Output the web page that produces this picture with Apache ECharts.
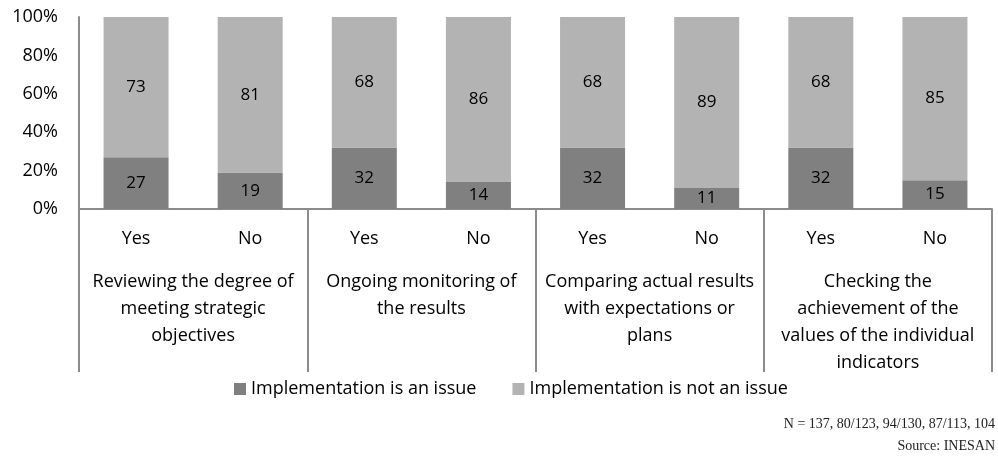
<!DOCTYPE html>
<html>
<head>
<meta charset="utf-8">
<script src="https://cdn.jsdelivr.net/npm/echarts@6/dist/echarts.min.js"></script>
<style>
  html, body { margin: 0; padding: 0; background: #fff; }
  #chart { width: 998px; height: 456px; }
</style>
</head>
<body>
<div id="chart"></div>
<script>
// categories
var answers = ["Yes", "No", "Yes", "No", "Yes", "No", "Yes", "No"];
var groups = [
  "Reviewing the degree of\nmeeting strategic\nobjectives",
  "Ongoing monitoring of\nthe results",
  "Comparing actual results\nwith expectations or\nplans",
  "Checking the\nachievement of the\nvalues of the individual\nindicators"
];
// series values (%)
var issueValues = [27, 19, 32, 14, 32, 11, 32, 15];
var notIssueValues = [73, 81, 68, 86, 68, 89, 68, 85];
var seriesNames = ["Implementation is an issue", "Implementation is not an issue"];
// y axis ticks
var yTicks = [0, 20, 40, 60, 80, 100];

var noteLines = ["N = 137, 80/123, 94/130, 87/113, 104", "Source: INESAN"];

var FONT = "Open Sans";
var axisGray = "#8c8c8c";

var myChart = echarts.init(document.getElementById("chart"));

var option = {
  animation: false,
  textStyle: { fontFamily: FONT },
  grid: { left: 79, right: 6, top: 17, bottom: 247, containLabel: false },
  legend: {
    data: seriesNames,
    left: 229,
    top: 375,
    itemWidth: 12,
    itemHeight: 12,
    itemGap: 36,
    icon: "rect",
    textStyle: { fontFamily: FONT, fontSize: 18, color: "#000" }
  },
  xAxis: [
    {
      type: "category",
      data: answers,
      position: "bottom",
      axisLine: { show: true, lineStyle: { color: axisGray, width: 2 } },
      axisTick: { show: false },
      axisLabel: { interval: 0, margin: 21, fontSize: 18, color: "#000", fontFamily: FONT }
    },
    {
      type: "category",
      data: groups,
      position: "bottom",
      axisLine: { show: false },
      axisTick: {
        show: true,
        length: 163,
        lineStyle: { color: axisGray, width: 2 }
      },
      axisLabel: {
        interval: 0,
        margin: 59,
        fontSize: 18,
        lineHeight: 27,
        color: "#000",
        fontFamily: FONT,
        align: "center"
      }
    }
  ],
  yAxis: {
    type: "value",
    min: yTicks[0],
    max: yTicks[yTicks.length - 1],
    interval: yTicks[1] - yTicks[0],
    axisLine: { show: true, lineStyle: { color: axisGray, width: 2 } },
    axisTick: { show: false },
    splitLine: { show: false },
    axisLabel: {
      formatter: "{value}%",
      fontSize: 18,
      color: "#000",
      margin: 21,
      fontFamily: FONT
    }
  },
  series: [
    {
      name: seriesNames[0],
      type: "bar",
      stack: "total",
      data: issueValues,
      barWidth: 65,
      itemStyle: { color: "#808080" },
      label: { show: true, position: "inside", color: "#000", fontSize: 17, fontFamily: FONT }
    },
    {
      name: seriesNames[1],
      type: "bar",
      stack: "total",
      data: notIssueValues,
      barWidth: 65,
      itemStyle: { color: "#b3b3b3" },
      label: { show: true, position: "inside", color: "#000", fontSize: 17, fontFamily: FONT }
    }
  ],
  graphic: [
    {
      type: "text",
      right: 3,
      top: 417,
      style: { text: noteLines[0], font: "14px 'Liberation Serif'", fill: "#222", textAlign: "right" }
    },
    {
      type: "text",
      right: 3,
      top: 439,
      style: { text: noteLines[1], font: "14px 'Liberation Serif'", fill: "#222", textAlign: "right" }
    }
  ]
};

myChart.setOption(option);
</script>
</body>
</html>
